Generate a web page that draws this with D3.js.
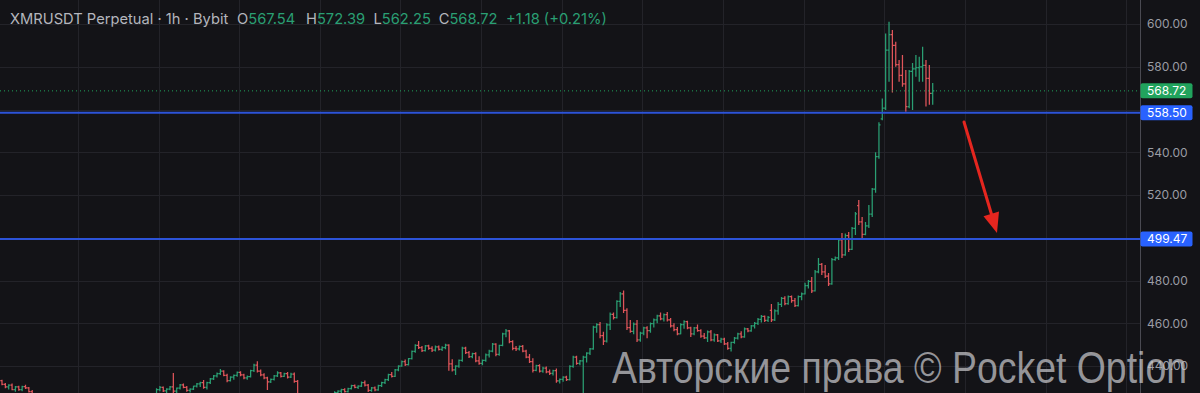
<!DOCTYPE html>
<html><head><meta charset="utf-8">
<script src="https://cdn.jsdelivr.net/npm/d3@7"></script>
<style>html,body{margin:0;padding:0;background:#131317;overflow:hidden}</style>
</head><body><svg id="c" width="1200" height="393"></svg>
<script>
// ---- DATA (hourly OHLC bars) ----
const opens = [432.0,433.2,431.4,430.2,431.0,429.0,430.2,429.0,430.4,429.8,428.0,426.2,424.6,423.2,424.0,422.0,420.8,421.8,419.8,420.4,421.0,420.2,418.4,419.2,420.0,421.0,422.2,421.4,422.4,423.0,421.8,420.6,421.6,422.8,423.6,422.6,422.0,423.4,424.2,423.4,424.4,425.0,424.2,425.0,425.8,425.2,426.0,426.4,429.0,430.0,428.4,429.2,430.2,428.2,429.6,431.2,430.0,428.6,429.2,430.6,431.6,432.2,430.0,432.2,434.0,435.4,436.4,437.6,435.6,433.2,434.8,435.6,437.0,435.8,434.4,435.0,437.8,440.4,437.6,435.8,434.4,432.6,433.8,435.4,436.8,435.2,436.4,434.8,436.2,432.8,426.6,424.4,425.0,423.2,424.0,424.8,423.8,425.2,425.8,425.0,426.2,427.6,428.2,429.0,428.0,429.4,430.8,430.0,430.6,432.2,431.0,428.6,429.8,428.8,430.8,432.2,433.6,436.0,435.2,438.2,440.0,442.0,440.6,443.4,446.8,449.6,448.6,447.2,449.4,448.2,447.4,449.0,447.8,448.6,449.8,441.0,438.2,440.0,442.6,448.4,446.2,444.4,445.8,442.4,441.2,442.6,445.2,447.0,450.2,445.4,449.6,455.0,456.4,451.4,448.2,448.0,449.2,447.0,444.2,442.0,438.0,440.2,437.6,439.0,437.2,436.6,437.8,433.0,433.8,434.8,433.6,439.8,444.2,441.2,442.4,444.2,446.0,448.0,458.2,459.4,454.2,451.6,459.2,464.2,462.6,470.2,473.8,466.0,458.0,456.2,459.6,452.2,455.4,457.8,456.6,459.8,461.6,463.4,462.0,464.0,461.6,458.8,457.0,455.0,459.4,460.8,457.8,455.0,457.8,456.6,454.0,453.2,456.0,452.2,454.6,451.8,452.6,450.4,448.2,451.0,453.0,455.0,453.6,457.4,456.4,458.8,460.0,461.8,463.2,461.4,466.0,461.6,465.8,468.8,471.6,469.2,472.4,470.6,468.2,472.4,473.8,477.6,479.6,475.2,484.0,487.6,484.0,482.0,478.4,489.8,490.6,499.0,492.0,501.0,494.6,504.4,515.0,507.4,501.6,505.6,511.0,522.8,538.0,555.6,560.6,587.8,595.0,590.0,581.0,576.0,572.0,561.4,577.8,579.0,579.6,580.0,580.6,574.6,567.54];
const highs = [434.0,433.6,432.0,431.5,431.8,430.6,430.8,430.8,431.2,430.2,428.8,426.8,425.4,424.6,424.8,423.0,422.4,422.6,421.0,421.6,422.2,421.0,419.8,420.6,421.4,422.6,423.0,422.8,423.6,423.8,422.6,422.0,423.2,424.0,424.4,423.4,423.8,424.6,425.0,424.8,425.6,425.8,425.4,426.2,426.6,426.4,426.8,429.6,430.6,430.4,429.6,430.6,436.7,430.0,431.6,431.8,430.6,429.6,430.8,432.0,432.6,433.4,432.6,434.4,435.8,437.0,438.6,438.0,436.4,435.2,436.0,437.4,437.6,436.4,435.6,438.2,441.0,442.2,438.4,436.6,435.0,434.2,435.8,437.6,437.2,436.8,437.2,436.8,437.0,433.4,427.0,425.6,425.8,424.4,425.2,425.4,425.6,426.2,426.4,426.6,428.2,428.6,429.4,429.6,429.8,431.2,431.4,431.0,432.8,433.2,431.6,430.2,430.4,431.2,432.6,434.0,436.4,437.2,438.6,440.4,442.6,443.0,443.8,447.2,450.2,451.7,449.4,449.8,450.0,449.2,449.6,449.6,449.2,450.4,450.2,443.2,440.4,443.0,449.0,449.0,447.0,446.2,446.4,444.6,443.0,445.8,447.6,450.8,450.6,450.0,455.6,457.3,456.8,452.0,449.4,449.6,449.8,447.6,445.6,443.6,440.6,440.8,439.6,439.8,438.4,438.2,438.8,434.2,435.2,435.4,440.4,444.8,444.8,442.8,444.8,446.4,448.4,458.8,460.0,460.6,456.0,460.0,465.0,465.0,470.8,474.6,475.3,467.0,461.5,460.4,461.5,456.0,458.4,458.6,460.4,462.2,464.0,465.0,464.6,465.3,462.4,460.0,458.2,460.0,461.4,461.2,458.4,458.2,459.4,457.2,455.4,456.6,456.8,455.2,455.0,453.2,453.2,451.2,451.4,453.6,455.6,456.2,458.0,457.8,459.2,460.6,462.4,463.9,463.6,463.4,469.0,466.6,470.0,472.3,472.6,473.0,473.0,471.8,473.0,474.4,479.0,480.2,481.6,484.9,490.5,488.2,487.2,483.5,490.5,491.2,499.9,502.2,502.0,502.7,505.0,512.0,517.7,509.7,507.4,515.3,523.3,540.0,554.0,565.2,595.6,601.0,597.2,591.7,583.2,585.5,578.5,578.5,581.7,585.5,584.7,589.4,583.2,580.8,572.39];
const lows = [431.0,431.0,429.6,429.0,428.6,428.0,428.4,428.2,429.2,427.6,425.6,424.0,422.8,422.4,421.6,420.2,420.0,419.4,418.6,419.6,419.8,417.8,417.2,418.4,419.2,420.4,420.8,420.6,421.6,421.4,420.2,420.0,421.0,422.0,422.2,421.4,421.6,422.8,423.0,422.8,423.6,423.8,423.6,424.4,424.6,424.8,425.0,426.0,428.2,427.8,427.0,428.6,427.2,427.4,429.0,429.6,428.0,427.6,428.8,430.0,430.2,429.4,429.0,431.6,433.4,434.6,435.8,435.2,432.4,432.8,433.6,435.0,435.2,433.8,433.6,434.6,437.2,437.0,435.2,433.8,428.8,432.0,433.2,434.8,434.6,434.8,434.2,434.4,432.2,426.0,423.8,423.0,422.6,422.0,423.4,423.2,423.4,424.6,424.6,424.8,425.8,426.8,427.4,427.6,427.6,429.0,429.6,429.2,430.2,430.4,427.8,428.0,428.2,428.4,430.2,431.6,433.0,434.6,434.8,437.6,439.6,440.0,440.2,443.0,446.2,448.0,446.6,446.8,447.6,446.6,446.8,447.2,447.0,447.8,437.8,437.4,435.8,439.2,442.0,445.6,443.8,443.6,441.8,440.6,440.4,442.0,444.0,446.4,444.6,444.8,449.2,453.4,450.6,447.4,447.0,447.2,446.4,443.6,441.4,437.0,437.6,437.0,436.8,436.6,435.8,435.6,432.2,431.8,432.6,433.0,433.2,439.2,440.6,440.4,420.0,441.6,445.2,447.6,455.6,453.0,449.8,451.0,456.8,461.8,462.2,467.6,464.8,456.8,455.5,454.8,451.2,451.4,454.4,453.0,455.6,458.0,460.0,461.4,460.8,460.8,458.0,456.2,454.4,454.8,457.4,457.2,453.6,454.4,456.0,453.2,452.6,451.2,451.6,451.4,451.2,450.8,449.8,447.6,446.8,450.4,452.4,453.0,453.2,455.8,456.0,457.6,459.2,460.4,460.6,460.6,460.6,461.0,464.0,467.6,468.4,468.6,469.6,467.6,467.8,470.8,473.4,476.2,474.1,474.8,483.4,482.6,481.2,477.4,478.0,489.2,489.6,490.5,491.6,493.3,494.3,501.3,506.0,499.9,501.2,504.6,509.7,521.0,537.0,555.0,559.8,573.0,567.9,580.0,573.0,570.7,559.0,560.6,559.8,575.3,573.0,573.0,561.4,562.2,562.25];
const closes = [433.2,431.4,430.2,431.0,429.0,430.2,429.0,430.4,429.8,428.0,426.2,424.6,423.2,424.0,422.0,420.8,421.8,419.8,420.4,421.0,420.2,418.4,419.2,420.0,421.0,422.2,421.4,422.4,423.0,421.8,420.6,421.6,422.8,423.6,422.6,422.0,423.4,424.2,423.4,424.4,425.0,424.2,425.0,425.8,425.2,426.0,426.4,429.0,430.0,428.4,429.2,430.2,428.2,429.6,431.2,430.0,428.6,429.2,430.6,431.6,432.2,430.0,432.2,434.0,435.4,436.4,437.6,435.6,433.2,434.8,435.6,437.0,435.8,434.4,435.0,437.8,440.4,437.6,435.8,434.4,432.6,433.8,435.4,436.8,435.2,436.4,434.8,436.2,432.8,426.6,424.4,425.0,423.2,424.0,424.8,423.8,425.2,425.8,425.0,426.2,427.6,428.2,429.0,428.0,429.4,430.8,430.0,430.6,432.2,431.0,428.6,429.8,428.8,430.8,432.2,433.6,436.0,435.2,438.2,440.0,442.0,440.6,443.4,446.8,449.6,448.6,447.2,449.4,448.2,447.4,449.0,447.8,448.6,449.8,441.0,438.2,440.0,442.6,448.4,446.2,444.4,445.8,442.4,441.2,442.6,445.2,447.0,450.2,445.4,449.6,455.0,456.4,451.4,448.2,448.0,449.2,447.0,444.2,442.0,438.0,440.2,437.6,439.0,437.2,436.6,437.8,433.0,433.8,434.8,433.6,439.8,444.2,441.2,442.4,444.2,446.0,448.0,458.2,459.4,454.2,451.6,459.2,464.2,462.6,470.2,473.8,466.0,458.0,456.2,459.6,452.2,455.4,457.8,456.6,459.8,461.6,463.4,462.0,464.0,461.6,458.8,457.0,455.0,459.4,460.8,457.8,455.0,457.8,456.6,454.0,453.2,456.0,452.2,454.6,451.8,452.6,450.4,448.2,451.0,453.0,455.0,453.6,457.4,456.4,458.8,460.0,461.8,463.2,461.4,462.8,461.6,465.8,468.8,471.6,469.2,472.4,470.6,468.2,472.4,473.8,477.6,479.6,475.2,484.0,487.6,484.0,482.0,478.4,489.8,490.6,499.0,492.0,501.0,494.6,504.4,511.2,507.4,501.6,505.6,511.0,522.8,538.0,552.8,560.6,587.8,595.0,590.0,581.0,576.0,572.0,561.4,577.8,579.0,579.6,580.0,580.6,574.6,567.6,568.72];
const gridTicks = [440, 460, 480, 500, 520, 540, 560, 580, 600];
const labelTicks = [440, 460, 480, 520, 540, 580, 600];
const levelPrices = [558.50, 499.47];
const lastPrice = 568.72;
const titleText = "XMRUSDT Perpetual · 1h · Bybit";
const ohlcLetters = ["O", "H", "L", "C"];
const ohlcValues = ["567.54", "572.39", "562.25", "568.72"];
const changeText = "+1.18 (+0.21%)";
const watermarkText = "Авторские права © Pocket Option";

// ---- LAYOUT / STYLE ----
const W = 1200, H = 393, plotRight = 1140;
const BG = "#131317", GRID = "#232329", AXIS_TXT = "#9a9ca4";
const UP = "#2a9f73", DOWN = "#e0555a", BLUE = "#2962ff", BLUE_LINE = "#2c53d8", BADGE_GREEN = "#21a35d";
const FONT = "Inter, Roboto, sans-serif";
const svg = d3.select("#c");
svg.append("rect").attr("width", W).attr("height", H).attr("fill", BG);

const N = closes.length;
const step = 3.36;
const x = d3.scaleLinear().domain([0, N - 1]).range([932.7 - (N - 1) * step, 932.7]);
const y = d3.scaleLinear().domain([440, 600]).range([366, 24]);

// grid
const g = svg.append("g");
const dayLines = d3.range(23.6, 360, 24);
g.selectAll("line.v").data(dayLines).join("line")
  .attr("x1", d => Math.round(x(d)) + 0.5).attr("x2", d => Math.round(x(d)) + 0.5)
  .attr("y1", 0).attr("y2", H).attr("stroke", GRID).attr("stroke-width", 1);
g.selectAll("line.h").data(gridTicks).join("line")
  .attr("x1", 0).attr("x2", plotRight)
  .attr("y1", d => Math.round(y(d)) + 0.5).attr("y2", d => Math.round(y(d)) + 0.5)
  .attr("stroke", GRID).attr("stroke-width", 1);

// axis separator
svg.append("line").attr("x1", plotRight + 0.5).attr("x2", plotRight + 0.5).attr("y1", 0).attr("y2", H)
  .attr("stroke", "#4a4a52").attr("stroke-width", 1);

// OHLC bars
const bars = svg.append("g");
const idx = d3.range(N);
const col = i => closes[i] >= opens[i] ? UP : DOWN;
bars.selectAll("path").data(idx).join("path")
  .attr("d", i => {
    const cx = x(i);
    return `M${cx},${y(highs[i])}V${y(lows[i])}` +
           `M${cx - 1.6},${y(opens[i])}H${cx}` +
           `M${cx},${y(closes[i])}H${cx + 1.6}`;
  })
  .attr("stroke", col).attr("stroke-width", 1.25).attr("fill", "none");

// last price dotted line
svg.append("line").attr("x1", 0).attr("x2", plotRight).attr("y1", y(lastPrice)).attr("y2", y(lastPrice))
  .attr("stroke", BADGE_GREEN).attr("stroke-width", 1).attr("stroke-dasharray", "1,3");

// horizontal level lines
svg.selectAll("line.lvl").data(levelPrices).join("line")
  .attr("x1", 0).attr("x2", plotRight).attr("y1", d => y(d)).attr("y2", d => y(d))
  .attr("stroke", BLUE_LINE).attr("stroke-width", 2);

// axis labels
const ax = d3.axisRight(y).tickValues(labelTicks).tickFormat(d3.format(".2f")).tickSize(0).tickPadding(7);
const axG = svg.append("g").attr("transform", `translate(${plotRight},0)`).call(ax);
axG.select(".domain").remove();
axG.selectAll("text").attr("fill", AXIS_TXT).attr("font-family", FONT).attr("font-size", 12);

// badges
const badges = [{v: lastPrice, c: BADGE_GREEN}].concat(levelPrices.map(v => ({v, c: BLUE})));
const bg = svg.append("g").selectAll("g").data(badges).join("g")
  .attr("transform", d => `translate(${plotRight},${y(d.v)})`);
bg.append("rect").attr("x", 0.5).attr("y", -7.5).attr("width", 52).attr("height", 15).attr("rx", 2).attr("fill", d => d.c);
bg.append("text").attr("x", 7).attr("y", 0).attr("dy", "0.35em").attr("fill", "#fff")
  .attr("font-family", FONT).attr("font-size", 12).text(d => d3.format(".2f")(d.v));

// arrow
const ar = svg.append("g");
ar.append("line").attr("x1", 964).attr("y1", 122).attr("x2", 992).attr("y2", 216)
  .attr("stroke", "#e5261f").attr("stroke-width", 3).attr("stroke-linecap", "round");
ar.append("path").attr("d", "M997,233L983.5,216.2L999,211.6Z").attr("fill", "#e5261f");

// header
const hdr = svg.append("text").attr("x", 10).attr("y", 23.5)
  .attr("font-family", FONT).attr("font-size", 14.7);
hdr.append("tspan").attr("fill", "#b4b6bd").text(titleText);
const xs = [237, 306, 373.5, 438.7];
ohlcLetters.forEach((l, k) => {
  hdr.append("tspan").attr("x", xs[k]).attr("fill", "#b4b6bd").text(l);
  hdr.append("tspan").attr("fill", UP).text(ohlcValues[k]);
});
hdr.append("tspan").attr("x", 506).attr("fill", UP).text(changeText);

// watermark
svg.append("text").attr("x", 612).attr("y", 383)
  .attr("font-family", "Liberation Sans, Arial, sans-serif").attr("font-size", 44)
  .attr("textLength", 575).attr("lengthAdjust", "spacingAndGlyphs")
  .attr("fill", "#c8c8cc").attr("fill-opacity", 0.72).text(watermarkText);
</script></body></html>
